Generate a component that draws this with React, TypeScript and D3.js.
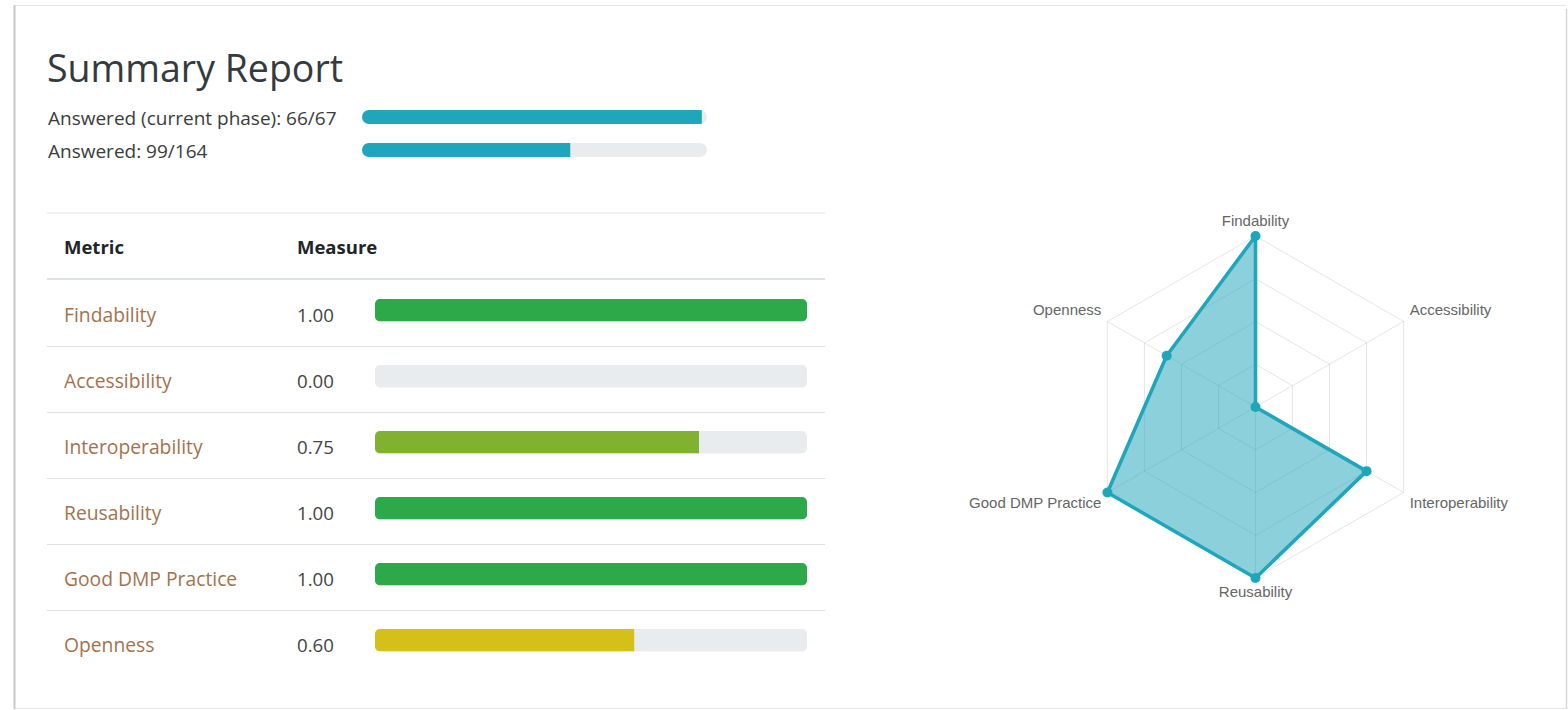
import React from "react";
import * as d3 from "d3";

// ---------- data ----------
const title = "Summary Report";
const progressLabels = ["Answered (current phase): 66/67", "Answered: 99/164"];
const progressDone = [66, 99];
const progressTotal = [67, 164];

const tableHeaders = ["Metric", "Measure"];
const metrics = [
  "Findability",
  "Accessibility",
  "Interoperability",
  "Reusability",
  "Good DMP Practice",
  "Openness",
];
const measures = [1.0, 0.0, 0.75, 1.0, 1.0, 0.6];
const radarTicks = [0.25, 0.5, 0.75, 1.0];

// ---------- styles ----------
const FONT = "'Open Sans', 'Noto Sans', sans-serif";
const RADAR_FONT = "'Liberation Sans', Arial, sans-serif";
const TEAL = "#1fa6ba";
const TRACK = "#e9ecef";
const LINK = "#a3724d";
const RULE = "#dee2e6";

export default function App() {
  const W = 1568;
  const H = 710;

  // progress bars
  const px = d3.scaleLinear().domain([0, 1]).range([362, 707]);
  const progY = d3.scalePoint<number>().domain([0, 1]).range([110, 143]);

  // table
  const tableLeft = 47;
  const tableRight = 825;
  const rowY = d3.scaleBand<string>().domain(metrics).range([280, 676]);
  const bx = d3.scaleLinear().domain([0, 1]).range([375, 807]);
  const barColor = d3
    .scaleThreshold<number, string>()
    .domain([0.7, 0.9])
    .range(["#d5bf19", "#80b22f", "#2da94a"]);

  // radar
  const cx = 1255.5;
  const cy = 407;
  const R = 171;
  const rScale = d3.scaleLinear().domain([0, 1]).range([0, R]);
  const angle = d3
    .scaleLinear()
    .domain([0, metrics.length])
    .range([0, 2 * Math.PI]);
  const radial = d3
    .lineRadial<number>()
    .angle((_, i) => angle(i))
    .radius((d) => rScale(d))
    .curve(d3.curveLinearClosed);
  const pt = (i: number, v: number) => {
    const a = angle(i) - Math.PI / 2;
    return [cx + rScale(v) * Math.cos(a), cy + rScale(v) * Math.sin(a)];
  };
  const labelR = 178;

  return (
    <svg
      width={W}
      height={H}
      style={{ position: "absolute", left: 0, top: 0, background: "#fff" }}
    >
      {/* card */}
      <rect x={0} y={0} width={W} height={H} fill="#fff" />
      <line x1={14} y1={5.5} x2={1566} y2={5.5} stroke="#e6e6e6" strokeWidth={1} />
      <line x1={14} y1={708.5} x2={1566} y2={708.5} stroke="#e6e6e6" strokeWidth={1} />
      <line x1={14.5} y1={5} x2={14.5} y2={709} stroke="#c9c9c9" strokeWidth={2} />
      <line x1={1566.5} y1={9} x2={1566.5} y2={709} stroke="#d6d6d6" strokeWidth={1.5} />

      {/* title */}
      <text x={47} y={82} fontFamily={FONT} fontSize={37.5} fill="#343a40">
        {title}
      </text>

      {/* progress */}
      <defs>
        {progressLabels.map((_, i) => (
          <clipPath id={`pclip${i}`} key={i}>
            <rect x={px(0)} y={progY(i)} width={px(1) - px(0)} height={14} rx={7} />
          </clipPath>
        ))}
        {metrics.map((_, i) => (
          <clipPath id={`bclip${i}`} key={i}>
            <rect
              x={bx(0)}
              y={(rowY(metrics[i]) as number) + 19}
              width={bx(1) - bx(0)}
              height={22.5}
              rx={5}
            />
          </clipPath>
        ))}
      </defs>
      {progressLabels.map((lab, i) => (
        <g key={lab}>
          <text
            x={48}
            y={(progY(i) as number) + 15}
            fontFamily={FONT}
            fontSize={19}
            fill="#3b3b3b"
          >
            {lab}
          </text>
          <rect x={px(0)} y={progY(i)} width={px(1) - px(0)} height={14} rx={7} fill={TRACK} />
          <rect
            x={px(0)}
            y={progY(i)}
            width={px(progressDone[i] / progressTotal[i]) - px(0)}
            height={14}
            fill={TEAL}
            clipPath={`url(#pclip${i})`}
          />
        </g>
      ))}

      {/* table */}
      <line x1={tableLeft} x2={tableRight} y1={213} y2={213} stroke={RULE} strokeWidth={1} />
      <text x={64} y={254} fontFamily={FONT} fontSize={18.5} fontWeight={700} fill="#212529">
        {tableHeaders[0]}
      </text>
      <text x={297} y={254} fontFamily={FONT} fontSize={18.5} fontWeight={700} fill="#212529">
        {tableHeaders[1]}
      </text>
      <line x1={tableLeft} x2={tableRight} y1={279} y2={279} stroke={RULE} strokeWidth={2} />
      {metrics.map((m, i) => {
        const y0 = rowY(m) as number;
        const v = measures[i];
        return (
          <g key={m}>
            {i > 0 && (
              <line x1={tableLeft} x2={tableRight} y1={y0 + 0.5} y2={y0 + 0.5} stroke={RULE} />
            )}
            <text x={64} y={y0 + 41.5} fontFamily={FONT} fontSize={19.3} fill={LINK}>
              {m}
            </text>
            <text x={297} y={y0 + 41.5} fontFamily={FONT} fontSize={18.7} fill="#444">
              {v.toFixed(2)}
            </text>
            <rect
              x={bx(0)}
              y={y0 + 19}
              width={bx(1) - bx(0)}
              height={22.5}
              rx={5}
              fill={TRACK}
            />
            <rect
              x={bx(0)}
              y={y0 + 19}
              width={bx(v) - bx(0)}
              height={22.5}
              fill={barColor(v)}
              clipPath={`url(#bclip${i})`}
            />
          </g>
        );
      })}

      {/* radar */}
      <g transform={`translate(${cx},${cy})`}>
        {radarTicks.map((t) => (
          <path
            key={t}
            d={radial(metrics.map(() => t)) as string}
            fill="none"
            stroke="rgba(0,0,0,0.1)"
            strokeWidth={1}
          />
        ))}
      </g>
      {metrics.map((m, i) => {
        const [x, y] = pt(i, 1);
        return (
          <line key={m} x1={cx} y1={cy} x2={x} y2={y} stroke="rgba(0,0,0,0.1)" strokeWidth={1} />
        );
      })}
      <g transform={`translate(${cx},${cy})`}>
        <path
          d={radial(measures) as string}
          fill="rgba(23,162,184,0.5)"
          stroke={TEAL}
          strokeWidth={3.5}
          strokeLinejoin="round"
        />
      </g>
      {measures.map((v, i) => {
        const [x, y] = pt(i, v);
        return <circle key={i} cx={x} cy={y} r={5} fill={TEAL} />;
      })}
      {metrics.map((m, i) => {
        const a = angle(i) - Math.PI / 2;
        const x = cx + labelR * Math.cos(a);
        const y = cy + labelR * Math.sin(a);
        const c = Math.cos(a);
        const s = Math.sin(a);
        const anchor = Math.abs(c) < 0.01 ? "middle" : c > 0 ? "start" : "end";
        const by = s < -0.01 ? y - 3 : s > 0.01 ? y + 12 : y + 5;
        return (
          <text
            key={m}
            x={x}
            y={by}
            textAnchor={anchor}
            fontFamily={RADAR_FONT}
            fontSize={15}
            fill="#666"
          >
            {m}
          </text>
        );
      })}
    </svg>
  );
}
